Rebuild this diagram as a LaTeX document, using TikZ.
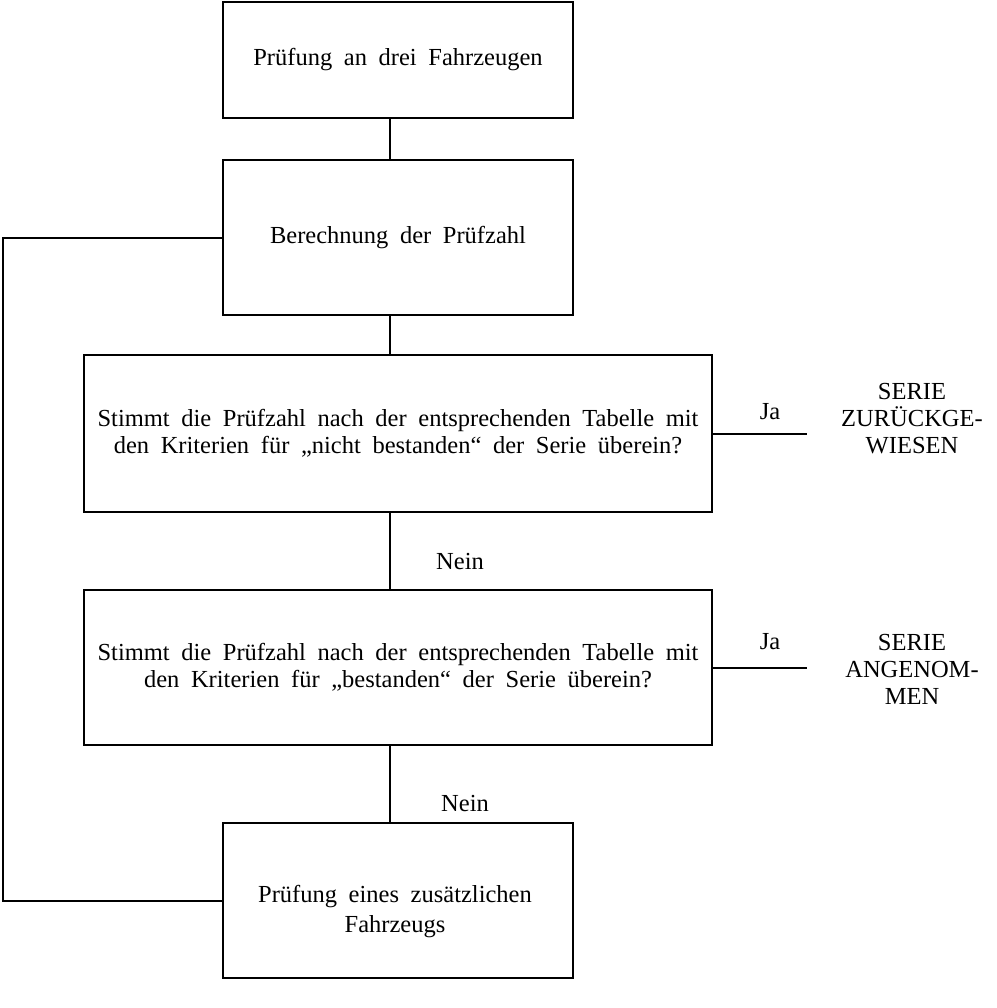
\documentclass[tikz,border=0pt]{standalone}
\usepackage{fontspec}
\setmainfont[WordSpace=1.9]{Liberation Serif}
\begin{document}
\begin{tikzpicture}[x=1pt,y=-1pt,
  box/.style={draw,line width=2pt,align=center,inner sep=0pt,font=\fontsize{24.5}{27}\selectfont},
  lbl/.style={align=center,inner sep=0pt,font=\fontsize{24.5}{27}\selectfont},
  con/.style={line width=2pt}]
\useasboundingbox (0,0) rectangle (996,1008);
\node[box,minimum width=350pt,minimum height=116pt] (b1) at (398,60) {Prüfung an drei Fahrzeugen};
\node[box,minimum width=350pt,minimum height=155pt] (b2) at (398,237.5) {Berechnung der Prüfzahl};
\node[box,minimum width=628pt,minimum height=157pt] (b3) at (398,433.5) {Stimmt die Prüfzahl nach der entsprechenden Tabelle mit\\den Kriterien für „nicht bestanden“ der Serie überein?};
\node[box,minimum width=628pt,minimum height=155pt] (b4) at (398,667.5) {Stimmt die Prüfzahl nach der entsprechenden Tabelle mit\\den Kriterien für „bestanden“ der Serie überein?};
\node[box,minimum width=350pt,minimum height=155pt] (b5) at (398,900.5) {};
\node[lbl,font=\fontsize{24.5}{30}\selectfont] (b5t) at (395,912) {Prüfung eines zusätzlichen\\Fahrzeugs};
\draw[con] ([xshift=-8pt]b1.south) -- ([xshift=-8pt]b2.north);
\draw[con] ([xshift=-8pt]b2.south) -- ([xshift=-8pt]b3.north);
\draw[con] ([xshift=-8pt]b3.south) -- ([xshift=-8pt]b4.north);
\draw[con] ([xshift=-8pt]b4.south) -- ([xshift=-8pt]b5.north);
\coordinate (lc) at (3,237.5);
\draw[con] (b2.west) -- (lc) |- (b5.west);
\coordinate (j1) at (807,433.5);
\coordinate (j2) at (807,668);
\draw[con] (b3.east |- j1) -- (j1);
\draw[con] (b4.east |- j2) -- (j2);
\node[lbl] (ja1) at (770,412) {Ja};
\node[lbl] (ja2) at (770,642) {Ja};
\node[lbl] (s1) at (912,419) {SERIE\\ZURÜCKGE-\\WIESEN};
\node[lbl] (s2) at (912,669) {SERIE\\ANGENOM-\\MEN};
\node[lbl] (n1) at (460,562) {Nein};
\node[lbl] (n2) at (465,803) {Nein};
\end{tikzpicture}
\end{document}
